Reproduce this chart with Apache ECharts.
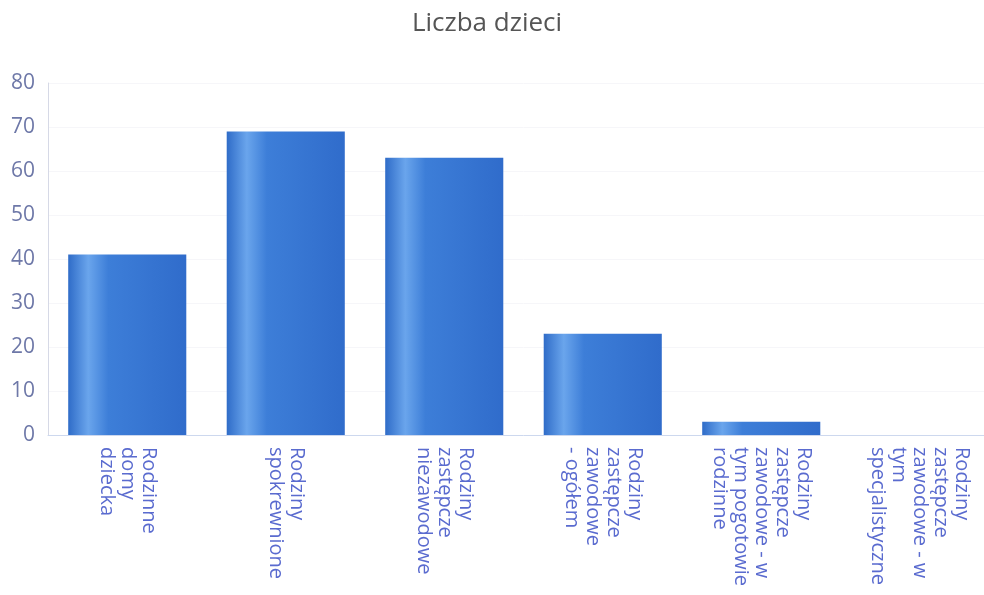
<!DOCTYPE html>
<html>
<head>
<meta charset="utf-8">
<script src="https://cdn.jsdelivr.net/npm/echarts@6/dist/echarts.min.js"></script>
<style>html,body{margin:0;padding:0;background:#fff;overflow:hidden}#c{width:999px;height:595px}</style>
</head>
<body>
<div id="c"></div>
<script>
const titleText = "Liczba dzieci";
const categories = [
  "Rodzinne\ndomy\ndziecka",
  "Rodziny\nspokrewnione",
  "Rodziny\nzastępcze\nniezawodowe",
  "Rodziny\nzastępcze\nzawodowe\n- ogółem",
  "Rodziny\nzastępcze\nzawodowe - w\ntym pogotowie\nrodzinne",
  "Rodziny\nzastępcze\nzawodowe - w\ntym\nspecjalistyczne"
];
const values = [41, 69, 63, 23, 3, 0];
const yMin = 0, yMax = 80, yStep = 10;

const chart = echarts.init(document.getElementById('c'), null, {renderer: 'canvas'});
const barGrad = new echarts.graphic.LinearGradient(0, 0, 1, 0, [
  {offset: 0, color: '#2f6cc8'},
  {offset: 0.17, color: '#6aa5ec'},
  {offset: 0.34, color: '#3d7ed8'},
  {offset: 1, color: '#306ccb'}
]);
chart.setOption({
  animation: false,
  textStyle: {fontFamily: 'Open Sans'},
  title: {
    text: titleText, left: 482, textAlign: 'center', top: 6,
    textStyle: {fontFamily: 'Open Sans', fontSize: 26, fontWeight: 'normal', color: '#555555'}
  },
  grid: {left: 48, top: 83, right: 0, bottom: 160, containLabel: false},
  xAxis: {
    type: 'category', data: categories,
    axisLine: {lineStyle: {color: '#cdd8ee', width: 1}},
    axisTick: {show: false},
    axisLabel: {
      rotate: -90, interval: 0, margin: 12,
      color: '#5a6bcf', fontSize: 20, lineHeight: 21, fontFamily: 'Open Sans'
    }
  },
  yAxis: {
    type: 'value', min: yMin, max: yMax, interval: yStep,
    axisLine: {show: true, lineStyle: {color: '#d6d9e6'}},
    axisTick: {show: false},
    splitLine: {show: true, lineStyle: {color: '#f6f6f9'}},
    axisLabel: {color: '#6e78a8', fontSize: 21, margin: 13, fontFamily: 'Open Sans'}
  },
  series: [{
    type: 'bar', data: values, barWidth: '74.5%',
    itemStyle: {color: barGrad}
  }]
});
</script>
</body>
</html>
